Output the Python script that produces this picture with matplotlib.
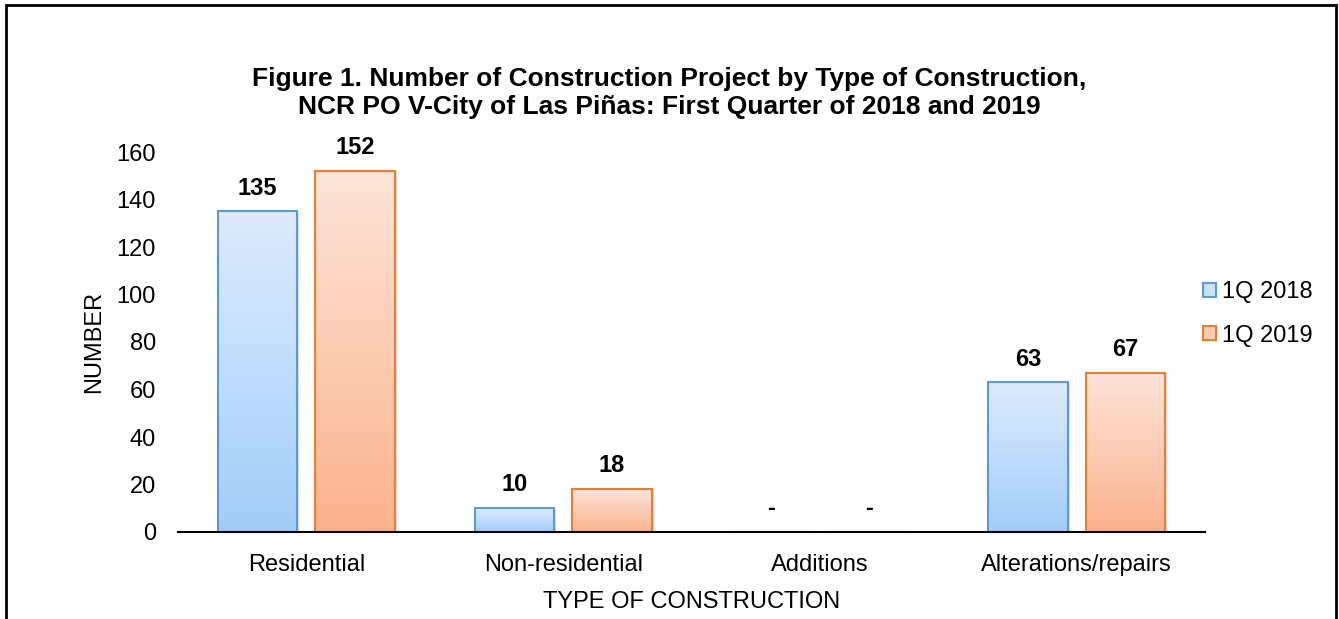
import numpy as np
import matplotlib
matplotlib.use("Agg")
import matplotlib.pyplot as plt
from matplotlib.colors import LinearSegmentedColormap
from matplotlib.patches import Rectangle, Patch

plt.rcParams["font.family"] = ["Liberation Sans", "DejaVu Sans"]

categories = ["Residential", "Non-residential", "Additions", "Alterations/repairs"]
series_names = ["1Q 2018", "1Q 2019"]
values_2018 = [135, 10, 0, 63]
values_2019 = [152, 18, 0, 67]
labels_2018 = ["135", "10", "-", "63"]
labels_2019 = ["152", "18", "-", "67"]

edge_colors = ["#5B9BD5", "#ED7D31"]
grad_colors = [("#DEEBFC", "#A2CDF9"), ("#FDE4D9", "#FBB38D")]

W, H = 1339, 619
FS = 17
fig = plt.figure(figsize=(W / 100, H / 100), dpi=100)
ax = fig.add_axes([178 / W, (H - 532) / H, (1205 - 178) / W, 380 / H])

x = np.arange(len(categories))
width = 0.31
offset = 0.19

for i, (vals, labs) in enumerate([(values_2018, labels_2018), (values_2019, labels_2019)]):
    pos = x + (offset if i else -offset)
    bars = ax.bar(pos, vals, width, facecolor="none", edgecolor=edge_colors[i],
                  linewidth=1.5, zorder=3, label=series_names[i])
    cmap = LinearSegmentedColormap.from_list("g%d" % i, [grad_colors[i][1], grad_colors[i][0]])
    grad = np.linspace(0, 1, 256).reshape(-1, 1)
    for b, lab in zip(bars, labs):
        h = b.get_height()
        if h > 0:
            x0 = b.get_x()
            # soft shadow
            ax.add_patch(Rectangle((x0 + 0.008, 0), width, h - 0.6, facecolor="#000000",
                                   alpha=0.12, edgecolor="none", zorder=1))
            im = ax.imshow(grad, cmap=cmap, aspect="auto", origin="lower",
                           extent=[x0, x0 + width, 0, h], zorder=2)
            im.set_clip_path(b)
        ax.text(b.get_x() + width / 2, h + 5, lab, ha="center", va="bottom",
                fontsize=FS, fontweight="bold")

ax.set_xlim(-0.5, len(categories) - 0.5)
ax.set_ylim(0, 160)
ax.set_yticks(np.arange(0, 161, 20))
ax.set_xticks(x)
ax.set_xticklabels(categories)
ax.tick_params(axis="both", length=0, labelsize=FS)
ax.tick_params(axis="x", pad=16)
ax.tick_params(axis="y", pad=16)
for s in ["top", "right", "left"]:
    ax.spines[s].set_visible(False)
ax.spines["bottom"].set_linewidth(1.5)
ax.spines["bottom"].set_zorder(4)

ax.set_xlabel("TYPE OF CONSTRUCTION", fontsize=FS, labelpad=11)
ax.set_ylabel("NUMBER", fontsize=FS, labelpad=8)

fig.text(0.5, (H - 93) / H,
         "Figure 1. Number of Construction Project by Type of Construction,\n"
         "NCR PO V-City of Las Piñas: First Quarter of 2018 and 2019",
         ha="center", va="center", fontsize=19, fontweight="bold", linespacing=1.17)

handles = [Patch(facecolor="#C9E1FB", edgecolor=edge_colors[0], linewidth=1.5),
           Patch(facecolor="#FCCDB3", edgecolor=edge_colors[1], linewidth=1.5)]
fig.legend(handles, series_names, loc="center left", bbox_to_anchor=(1182 / W, (H - 314) / H),
           frameon=False, fontsize=FS, handlelength=0.55, handleheight=0.55,
           handletextpad=0.25, labelspacing=0.9)

fig.add_artist(Rectangle((6 / W, -0.05), (1336 - 6) / W, (H - 5) / H + 0.05,
                         transform=fig.transFigure, fill=False, edgecolor="black",
                         linewidth=2))

fig.savefig("out.png", dpi=100, facecolor="white")
